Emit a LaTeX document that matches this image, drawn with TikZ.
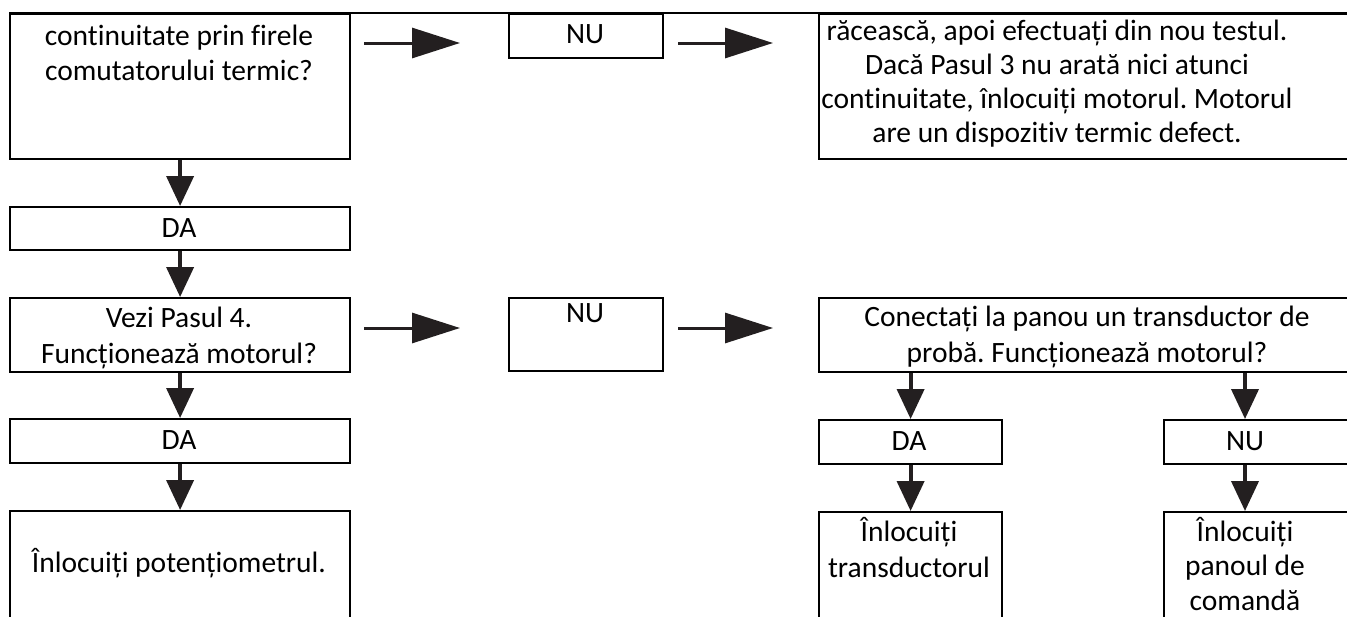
\documentclass[tikz,border=0pt]{standalone}
\usepackage{fontspec}
\setmainfont{Carlito}[Ligatures=NoCommon]
\frenchspacing
\usetikzlibrary{arrows.meta}
\definecolor{ink}{HTML}{231F20}
\tikzset{
  boxnode/.style={draw=black, line width=2.2pt, rectangle, inner sep=0pt, anchor=north west},
  txt/.style={inner sep=0pt, align=center, text=black, font=\fontsize{29.5}{35}\selectfont},
  harrow/.style={draw=ink, line width=3pt, -{Triangle[length=48pt,width=30pt]}},
  varrow/.style={draw=ink, line width=4pt, -{Triangle[length=30pt,width=27pt]}}
}
\begin{document}
\begin{tikzpicture}[x=1pt,y=-1pt]
\clip (0,0) rectangle (1347,616);
\fill[white] (0,0) rectangle (1347,616);
% row 1
\node[boxnode, minimum width=340pt, minimum height=145pt] (b1) at (9,13) {};
\node[txt] (t1) at (179,52.5) {continuitate prin firele\\comutatorului termic?};
\node[boxnode, minimum width=154pt, minimum height=44pt] (nu1) at (508,13) {};
\node[txt] (nu1t) at (585,34) {NU};
\node[boxnode, minimum width=560pt, minimum height=145pt] (r1) at (818,13) {};
\node[txt, font=\fontsize{29.5}{34}\selectfont] (tr1) at (1057,84) {răcească, apoi efectuați din nou testul.\\Dacă Pasul 3 nu arată nici atunci\\continuitate, înlocuiți motorul. Motorul\\are un dispozitiv termic defect.};
\coordinate (topR) at (1347,13);
\draw[line width=2.2pt] (b1.north west) -- (topR);
% left column
\node[boxnode, minimum width=340pt, minimum height=43pt] (da1) at (9,206) {};
\node[txt] (da1t) at (179,228) {DA};
\node[boxnode, minimum width=340pt, minimum height=74pt] (b3) at (9,297) {};
\node[txt, font=\fontsize{29.5}{36}\selectfont] (t3) at (179,338) {Vezi Pasul 4.\\Funcționează motorul?};
\node[boxnode, minimum width=340pt, minimum height=44pt] (da2) at (9,418) {};
\node[txt] (da2t) at (179,440) {DA};
\node[boxnode, minimum width=340pt, minimum height=130pt] (b5) at (9,510) {};
\node[txt] (t5) at (179,563) {Înlocuiți potențiometrul.};
% row 2 middle and right
\node[boxnode, minimum width=154pt, minimum height=73pt] (nu2) at (508,297) {};
\node[txt] (nu2t) at (585,313) {NU};
\node[boxnode, minimum width=560pt, minimum height=74pt] (r2) at (818,297) {};
\node[txt, font=\fontsize{29.5}{36}\selectfont] (tr2) at (1087,337) {Conectați la panou un transductor de\\probă. Funcționează motorul?};
\node[boxnode, minimum width=183pt, minimum height=44pt] (da3) at (818,419) {};
\node[txt] (da3t) at (909,441) {DA};
\node[boxnode, minimum width=200pt, minimum height=44pt] (nu3) at (1163,419) {};
\node[txt] (nu3t) at (1245,441) {NU};
\node[boxnode, minimum width=183pt, minimum height=130pt] (b6) at (818,511) {};
\node[txt, font=\fontsize{29.5}{36}\selectfont] (t6) at (909,548) {Înlocuiți\\transductorul};
\node[boxnode, minimum width=200pt, minimum height=130pt] (b7) at (1163,511) {};
\node[txt, font=\fontsize{29.5}{34.5}\selectfont] (t7) at (1245,564) {Înlocuiți\\panoul de\\comandă};
% horizontal arrows
\draw[harrow, shorten <=13pt, shorten >=48pt] ([yshift=-30pt]b1.north east) -- ([yshift=-30pt]nu1.north west);
\draw[harrow, shorten <=14pt, shorten >=45pt] ([yshift=-30pt]nu1.north east) -- ([yshift=-30pt]r1.north west);
\draw[harrow, shorten <=13pt, shorten >=48pt] ([yshift=-31pt]b3.north east) -- ([yshift=-31pt]nu2.north west);
\draw[harrow, shorten <=14pt, shorten >=45pt] ([yshift=-31pt]nu2.north east) -- ([yshift=-31pt]r2.north west);
% vertical arrows
\draw[varrow] (b1.south) -- (da1.north);
\draw[varrow] (da1.south) -- (b3.north);
\draw[varrow] (b3.south) -- (da2.north);
\draw[varrow] (da2.south) -- (b5.north);
\draw[varrow] (da3.north |- r2.south) -- (da3.north);
\draw[varrow] (nu3t |- r2.south) -- (nu3t |- nu3.north);
\draw[varrow] (da3.south) -- (b6.north);
\draw[varrow] (nu3t |- nu3.south) -- (nu3t |- b7.north);
\end{tikzpicture}
\end{document}
